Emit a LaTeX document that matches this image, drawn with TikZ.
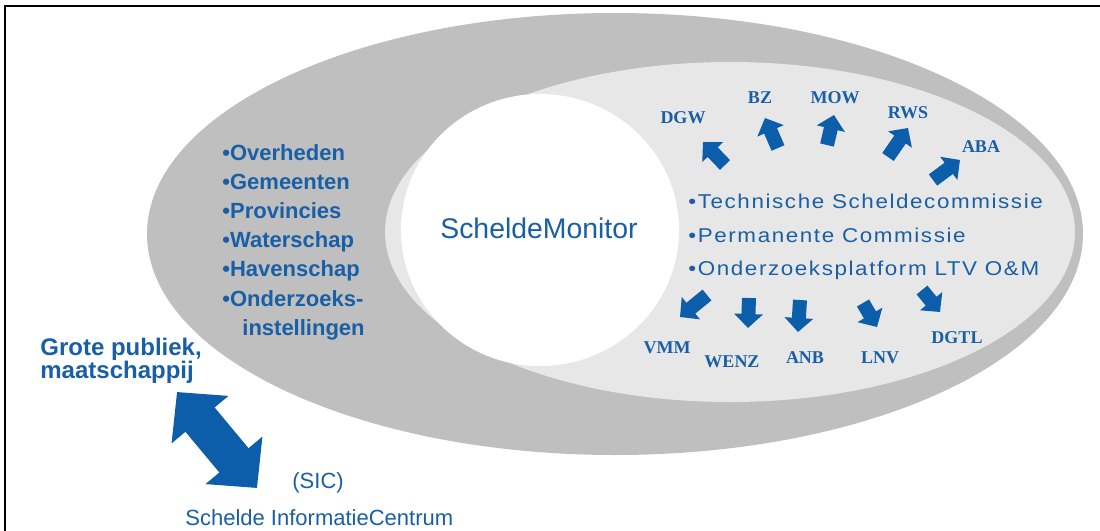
\documentclass[tikz,border=0pt]{standalone}
\usepackage{fontspec}
\setmainfont{Liberation Sans}
\newfontfamily\labelfont{Liberation Serif}
\newfontfamily\widefont[LetterSpace=8,FakeStretch=1.12]{Liberation Sans}
\usetikzlibrary{arrows.meta,positioning}

\definecolor{outergrey}{RGB}{191,191,191}
\definecolor{innergrey}{RGB}{231,231,231}
\definecolor{textblue}{RGB}{25,95,165}
\definecolor{arrowblue}{RGB}{12,94,170}

\begin{document}
\begin{tikzpicture}[x=0.5pt, y=-0.5pt,
    blk/.style = {line width=7pt, draw=arrowblue, -{Triangle[length=7pt, width=14pt]}},
    dblk/.style = {line width=19pt, draw=arrowblue,
                   {Triangle[length=18pt, width=36pt]}-{Triangle[length=18pt, width=36pt]}},
    lbl/.style = {font=\labelfont\bfseries\fontsize{9}{10}\selectfont, text=textblue},
    txt/.style = {anchor=base west, inner sep=0pt, text=textblue},
    org/.style = {txt, font=\bfseries\fontsize{11}{13}\selectfont},
    com/.style = {txt, font=\widefont\fontsize{10}{12}\selectfont}]

  \useasboundingbox (0,0) rectangle (1100,531);

  % frame, only top and left edge are in view
  \draw[line width=1pt] (1100,6) -- (5,6) -- (5,531);

  % the three rings
  \fill[outergrey] (615,234) ellipse [x radius=468, y radius=221];
  \fill[innergrey] (730,232) ellipse [x radius=345, y radius=170];
  \fill[white] (540,230) ellipse [x radius=139, y radius=136];

  \node[font=\fontsize{14.2}{16}\selectfont, text=textblue] (monitor) at (539,228) {ScheldeMonitor};

  % government bodies (outer ring)
  \foreach \t [count=\i] in {Overheden, Gemeenten, Provincies, Waterschap, Havenschap, Onderzoeks-}
    \node[org] (org\i) at (222,160+29.2*\i-29.2) {•\t};
  \node[org] (org7) at (242,335) {instellingen};

  % commissions (middle ring)
  \node[com] (tsc) at (688,208) {•Technische Scheldecommissie};
  \node[com] (pc) at (688,242) {•Permanente Commissie};
  \node[com] (lvt) at (688,275) {•Onderzoeksplatform LTV O\&M};

  % partner arrows and their labels
  \foreach \n/\xa/\ya/\xb/\yb in {DGW/725/165/703/142, BZ/778/148/765/118, MOW/827/145/834/115,
      RWS/888/157/908/128, ABA/933/180/960/160, VMM/707/295/680/317, WENZ/749/298/748/328,
      ANB/800/300/798/332, LNV/863/303/877/327, DGTL/922/290/940/312}
  {
    \coordinate (t\n) at (\xa,\ya);
    \coordinate (h\n) at (\xb,\yb);
    \draw[blk] (t\n) -- (h\n);
  }
  \foreach \n/\x/\y in {DGW/683/118, BZ/760/98, MOW/835/98, RWS/908/113, ABA/981/147,
      VMM/667/348, WENZ/732/362, ANB/805/358, LNV/880/358, DGTL/957/338}
    \node[lbl] (l\n) at (\x,\y) {\n};

  % public and information centre
  \node[txt, font=\bfseries\fontsize{12}{14}\selectfont] (pub1) at (40,355) {Grote publiek,};
  \node[txt, font=\bfseries\fontsize{12}{14}\selectfont] (pub2) at (40,378) {maatschappij};
  \coordinate (pubend) at (177,392);
  \coordinate (sicend) at (257,488);
  \draw[dblk] (pubend) -- (sicend);
  \node[txt, font=\fontsize{11}{13}\selectfont] (sic) at (292,488) {(SIC)};
  \node[txt, font=\fontsize{11}{13}\selectfont] (sicname) at (185,525) {Schelde InformatieCentrum};
\end{tikzpicture}
\end{document}
